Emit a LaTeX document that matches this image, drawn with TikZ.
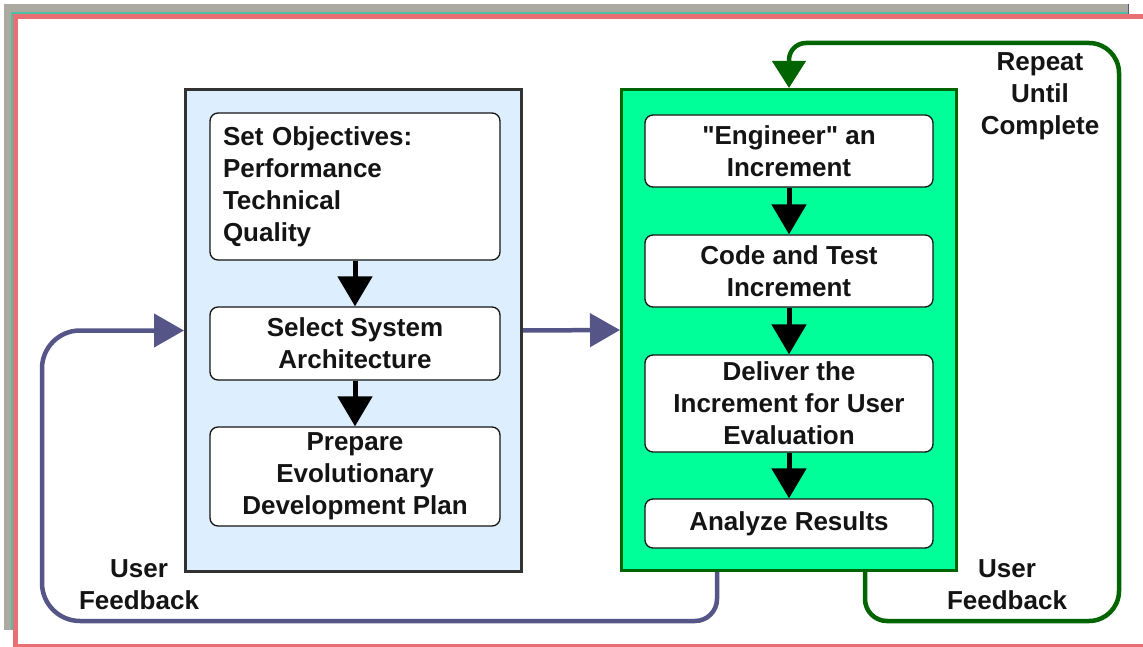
\documentclass[tikz,border=0pt]{standalone}
\usepackage{fontspec}
\setmainfont{Liberation Sans}
% same face without the TeX input mapping, so " stays a straight quote
\newfontfamily\straightq{Liberation Sans}
\newcommand{\sq}{{\straightq\symbol{34}}}
\usetikzlibrary{arrows.meta}

\definecolor{frameGray}{RGB}{172,170,160}
\definecolor{frameTeal}{RGB}{80,190,160}
\definecolor{framePink}{RGB}{232,112,116}
\definecolor{paleBlue}{RGB}{221,238,255}
\definecolor{mint}{RGB}{0,255,153}
\definecolor{darkGreen}{RGB}{0,100,0}
\definecolor{slate}{RGB}{85,85,136}
\definecolor{ink}{RGB}{20,20,20}

\tikzset{
  lbl/.style={font=\fontsize{26}{32}\selectfont\bfseries, text=ink, align=center, inner sep=0pt},
  phase/.style={draw, line width=3pt, inner sep=0pt, rectangle},
  stepbox/.style={draw=ink, line width=1.3pt, fill=white, rounded corners=8pt,
    inner sep=0pt, font=\fontsize{26}{32}\selectfont\bfseries, text=ink, align=center},
  flow/.style={line width=5pt, -{Triangle[length=30pt,width=34pt]}},
  loopline/.style={line width=4.5pt},
}

\begin{document}
\begin{tikzpicture}[x=1pt,y=-1pt]
\useasboundingbox (0,0) rectangle (1143,647);

% page frame
\fill[frameGray] (4,4) rectangle (1128,630);
\draw[slate, line width=1pt] (1128,4) -- (1128,14);
\draw[frameTeal, line width=2pt] (12,630) -- (12,13) -- (1128,13);
\draw[framePink, line width=5pt, fill=white] (15.5,16.5) rectangle (1160,646);

% the two phases
\node[phase, draw={rgb,255:red,50;green,50;blue,50}, fill=paleBlue,
      minimum width=336pt, minimum height=482pt] (plan) at (353.5,330.5) {};
\node[phase, draw=darkGreen, fill=mint,
      minimum width=335pt, minimum height=481pt] (build) at (789,330) {};

% planning steps
\node[stepbox, minimum width=290pt, minimum height=147pt, text width=264pt, align=left]
  (obj) at (355,186.5) {Set Objectives:\\Performance\\Technical\\Quality};
\node[stepbox, minimum width=290pt, minimum height=73pt] (arch) at (355,343.5)
  {Select System\\Architecture};
\node[stepbox, minimum width=290pt, minimum height=99pt] (evo) at (355,476.5)
  {Prepare\\Evolutionary\\Development Plan};

% increment steps
\node[stepbox, minimum width=288pt, minimum height=72pt] (eng) at (789,151)
  {\sq Engineer\sq{} an\\Increment};
\node[stepbox, minimum width=288pt, minimum height=72pt] (code) at (789,271)
  {Code and Test\\Increment};
\node[stepbox, minimum width=288pt, minimum height=97pt] (deliv) at (789,403.5)
  {Deliver the\\Increment for User\\Evaluation};
\node[stepbox, minimum width=288pt, minimum height=49pt] (anal) at (789,523.5)
  {Analyze Results};

% arrows inside the phases
\draw[flow] (obj) -- (arch);
\draw[flow] (arch) -- (evo);
\draw[flow] (eng) -- (code);
\draw[flow] (code) -- (deliv);
\draw[flow] (deliv) -- (anal);

% plan feeds the increments
\draw[slate, loopline, -{Triangle[length=30pt,width=33pt]}] (plan.east) -- (build.west);

% user feedback back to the planning phase
\coordinate (lowL) at (42,621);
\draw[slate, loopline, -{Triangle[length=30pt,width=33pt]}]
  ([xshift=-72pt]build.south) [rounded corners=22pt] -- ([xshift=-72pt]build.south |- lowL)
  [rounded corners=38pt] -- (lowL) -- (lowL |- plan.west) [sharp corners] -- (plan.west);

% repeat loop around the increments
\coordinate (topR) at (1119,43);
\draw[darkGreen, loopline, -{Triangle[length=27pt,width=33pt]}]
  ([xshift=76pt]build.south) [rounded corners=22pt] -- ([xshift=76pt]build.south |- lowL)
  [rounded corners=30pt] -- (topR |- lowL) -- (topR)
  [rounded corners=17pt] -- (build.north |- topR) [sharp corners] -- (build.north);

% loop labels
\node[lbl] (rep) at (1040,96) {Repeat\\Until\\Complete};
\node[lbl] (fbL) at (139,585) {User\\Feedback};
\node[lbl] (fbR) at (1007,585) {User\\Feedback};
\end{tikzpicture}
\end{document}
